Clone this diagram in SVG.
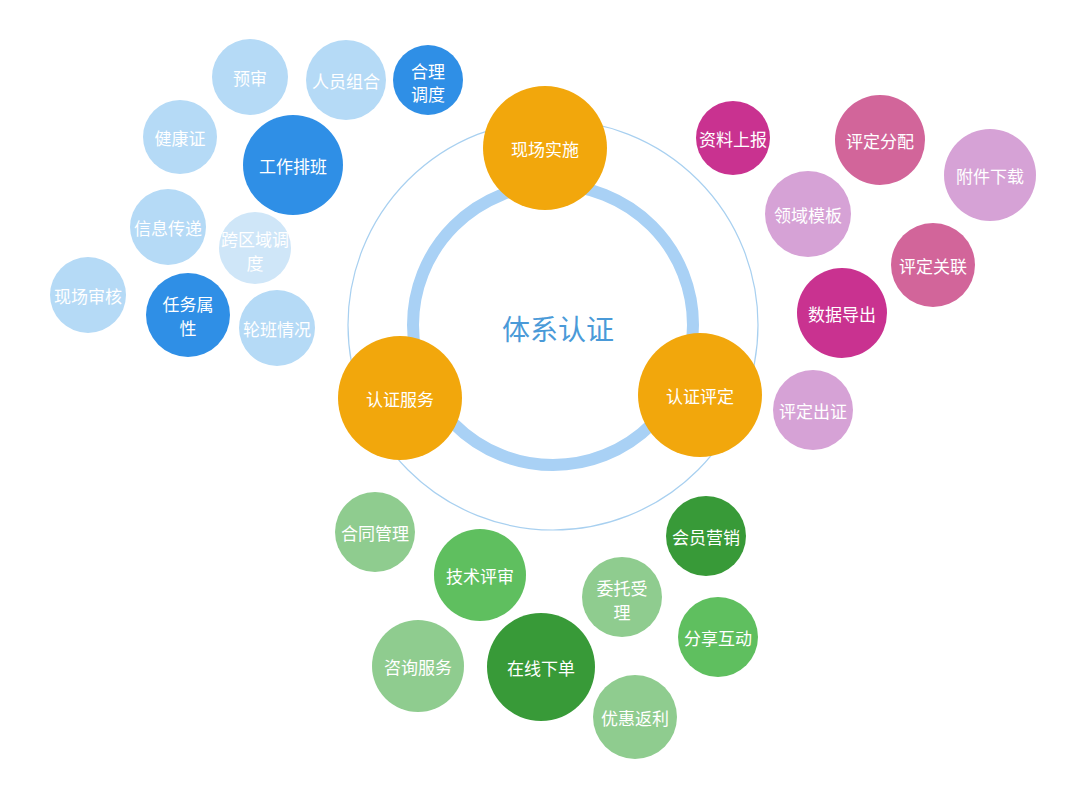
<svg xmlns="http://www.w3.org/2000/svg" width="1080" height="794" viewBox="0 0 1080 794">
<style>
text{font-family:"Noto Sans CJK SC","Noto Sans",sans-serif;font-size:17px;fill:#fff;text-anchor:middle;dominant-baseline:central}
.lb{fill:#b5daf6}.mb{fill:#2f8fe6}.or{fill:#f2a70c}
.mg{fill:#c93290}.pk{fill:#d2659a}.lp{fill:#d6a2d6}
.lg{fill:#8fcc8f}.gg{fill:#5fbf5f}.dg{fill:#389a38}
</style>
<rect width="1080" height="794" fill="#fff"/>
<g id="connectors">
<circle cx="553" cy="325" r="205" fill="none" stroke="#a8d0f0" stroke-width="1.2"/>
<circle cx="553" cy="325" r="140" fill="none" stroke="#a9d1f5" stroke-width="12"/>
</g>
<g id="center"><text x="558" y="328" style="font-size:28px;fill:#4a9ad8">体系认证</text></g>
<g id="n1"><circle cx="545" cy="148" r="62" class="or"/><text x="545" y="148">现场实施</text></g>
<g id="n2"><circle cx="400" cy="398" r="62" class="or"/><text x="400" y="398">认证服务</text></g>
<g id="n3"><circle cx="700" cy="395" r="62" class="or"/><text x="700" y="395">认证评定</text></g>
<g id="b1"><circle cx="250" cy="77" r="38" class="lb"/><text x="250" y="77">预审</text></g>
<g id="b2"><circle cx="346" cy="80" r="40" class="lb"/><text x="346" y="80">人员组合</text></g>
<g id="b3"><circle cx="428" cy="80" r="35" class="mb"/><text x="428" y="70">合理</text><text x="428" y="93">调度</text></g>
<g id="b4"><circle cx="180" cy="137" r="37" class="lb"/><text x="180" y="137">健康证</text></g>
<g id="b5"><circle cx="293" cy="165" r="50" class="mb"/><text x="293" y="165">工作排班</text></g>
<g id="b6"><circle cx="168" cy="227" r="38" class="lb"/><text x="168" y="227">信息传递</text></g>
<g id="b7"><circle cx="255" cy="248" r="36" fill="#cfe6f8"/><text x="255" y="238">跨区域调</text><text x="255" y="262">度</text></g>
<g id="b8"><circle cx="88" cy="295" r="38" class="lb"/><text x="88" y="295">现场审核</text></g>
<g id="b9"><circle cx="188" cy="315" r="42" class="mb"/><text x="188" y="303">任务属</text><text x="188" y="327">性</text></g>
<g id="b10"><circle cx="277" cy="328" r="38" class="lb"/><text x="277" y="328">轮班情况</text></g>
<g id="p1"><circle cx="733" cy="138" r="37" class="mg"/><text x="733" y="138">资料上报</text></g>
<g id="p2"><circle cx="880" cy="140" r="45" class="pk"/><text x="880" y="140">评定分配</text></g>
<g id="p3"><circle cx="990" cy="175" r="46" class="lp"/><text x="990" y="175">附件下载</text></g>
<g id="p4"><circle cx="808" cy="214" r="43" class="lp"/><text x="808" y="214">领域模板</text></g>
<g id="p5"><circle cx="933" cy="265" r="42" class="pk"/><text x="933" y="265">评定关联</text></g>
<g id="p6"><circle cx="842" cy="313" r="45" class="mg"/><text x="842" y="313">数据导出</text></g>
<g id="p7"><circle cx="813" cy="410" r="40" class="lp"/><text x="813" y="410">评定出证</text></g>
<g id="g1"><circle cx="375" cy="532" r="40" class="lg"/><text x="375" y="532">合同管理</text></g>
<g id="g2"><circle cx="706" cy="536" r="40" class="dg"/><text x="706" y="536">会员营销</text></g>
<g id="g3"><circle cx="480" cy="575" r="46" class="gg"/><text x="480" y="575">技术评审</text></g>
<g id="g4"><circle cx="622" cy="597" r="40" class="lg"/><text x="622" y="587">委托受</text><text x="622" y="611">理</text></g>
<g id="g5"><circle cx="718" cy="637" r="40" class="gg"/><text x="718" y="637">分享互动</text></g>
<g id="g6"><circle cx="418" cy="666" r="46" class="lg"/><text x="418" y="666">咨询服务</text></g>
<g id="g7"><circle cx="541" cy="667" r="54" class="dg"/><text x="541" y="667">在线下单</text></g>
<g id="g8"><circle cx="635" cy="717" r="42" class="lg"/><text x="635" y="717">优惠返利</text></g>
</svg>
